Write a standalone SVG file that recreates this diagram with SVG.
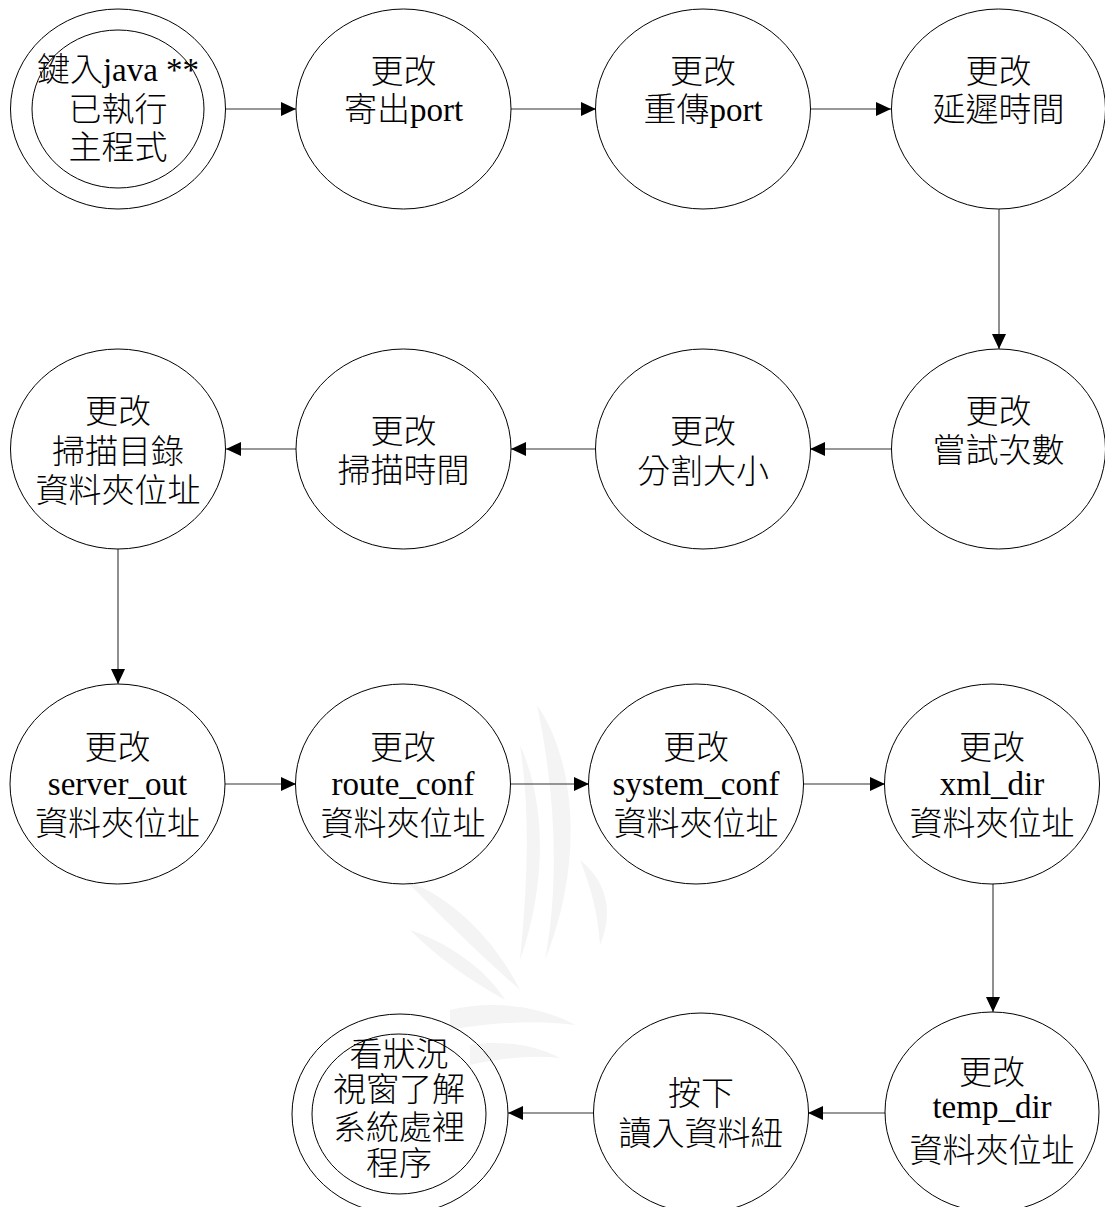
<svg xmlns="http://www.w3.org/2000/svg" width="1105" height="1207" viewBox="0 0 1105 1207">
<style>
.n ellipse{fill:none;stroke:#000;stroke-width:1}
.t{font-family:"Liberation Serif","Noto Sans CJK TC",serif;font-size:33px;font-weight:300;fill:#000;text-anchor:middle}
.c line{stroke:#333;stroke-width:1.1;marker-end:url(#ah)}
.wm{fill:#f4f4f4}
</style>
<defs>
<marker id="ah" markerUnits="userSpaceOnUse" markerWidth="16" markerHeight="15" refX="15" refY="7" orient="auto">
<path d="M0,0 L15,7 L0,14 z" fill="#000"/>
</marker>
</defs>
<rect width="1105" height="1207" fill="#fff"/>
<g id="watermark">
<path class="wm" d="M537,705 C575,760 585,860 545,960 C560,880 555,790 537,705 Z"/>
<path class="wm" d="M520,745 C545,800 548,880 520,960 C528,880 530,810 520,745 Z"/>
<path class="wm" d="M405,880 C460,900 500,950 520,990 C480,955 445,920 405,880 Z"/>
<path class="wm" d="M410,930 C455,945 490,975 505,1000 C470,980 440,960 410,930 Z"/>
<path class="wm" d="M450,1010 C490,1000 540,1005 575,1025 C535,1020 495,1022 450,1030 Z"/>
<path class="wm" d="M470,1045 C505,1040 535,1045 560,1058 C530,1055 500,1058 470,1065 Z"/>
<path class="wm" d="M580,860 C605,880 615,910 600,945 C598,915 592,890 580,860 Z"/>
</g>
<g id="connectors" class="c">
<line x1="226" y1="109" x2="296" y2="109"/>
<line x1="511" y1="109" x2="596" y2="109"/>
<line x1="810" y1="109" x2="891" y2="109"/>
<line x1="999" y1="209" x2="999" y2="349"/>
<line x1="891" y1="449" x2="810" y2="449"/>
<line x1="596" y1="449" x2="511" y2="449"/>
<line x1="296" y1="449" x2="226" y2="449"/>
<line x1="118" y1="549" x2="118" y2="684"/>
<line x1="225" y1="784" x2="296" y2="784"/>
<line x1="510" y1="784" x2="589" y2="784"/>
<line x1="803" y1="784" x2="885" y2="784"/>
<line x1="993" y1="884" x2="993" y2="1012"/>
<line x1="885" y1="1113" x2="808" y2="1113"/>
<line x1="594" y1="1113" x2="508" y2="1113"/>
</g>
<g id="n1" class="n">
<ellipse cx="118" cy="109" rx="107.5" ry="100"/>
<ellipse cx="118" cy="109" rx="86" ry="79"/>
<text class="t" x="118" y="81">鍵入java **</text>
<text class="t" x="118" y="121">已執行</text>
<text class="t" x="118" y="159">主程式</text>
</g>
<g id="n2" class="n">
<ellipse cx="403.5" cy="109" rx="107.5" ry="100"/>
<text class="t" x="403.5" y="83">更改</text>
<text class="t" x="403.5" y="121">寄出port</text>
</g>
<g id="n3" class="n">
<ellipse cx="703" cy="109" rx="107.5" ry="100"/>
<text class="t" x="703" y="83">更改</text>
<text class="t" x="703" y="121">重傳port</text>
</g>
<g id="n4" class="n">
<ellipse cx="998.5" cy="109" rx="107" ry="100"/>
<text class="t" x="998.5" y="83">更改</text>
<text class="t" x="998.5" y="121">延遲時間</text>
</g>
<g id="n5" class="n">
<ellipse cx="998.5" cy="449" rx="107" ry="100"/>
<text class="t" x="998.5" y="423">更改</text>
<text class="t" x="998.5" y="462">嘗試次數</text>
</g>
<g id="n6" class="n">
<ellipse cx="703" cy="449" rx="107.5" ry="100"/>
<text class="t" x="703" y="443">更改</text>
<text class="t" x="703" y="483">分割大小</text>
</g>
<g id="n7" class="n">
<ellipse cx="403.5" cy="449" rx="107.5" ry="100"/>
<text class="t" x="403.5" y="443">更改</text>
<text class="t" x="403.5" y="482">掃描時間</text>
</g>
<g id="n8" class="n">
<ellipse cx="118" cy="449" rx="107.5" ry="100"/>
<text class="t" x="118" y="423">更改</text>
<text class="t" x="118" y="463">掃描目錄</text>
<text class="t" x="118" y="502">資料夾位址</text>
</g>
<g id="n9" class="n">
<ellipse cx="117.5" cy="784" rx="107.5" ry="100"/>
<text class="t" x="117.5" y="759">更改</text>
<text class="t" x="117.5" y="795">server_out</text>
<text class="t" x="117.5" y="835">資料夾位址</text>
</g>
<g id="n10" class="n">
<ellipse cx="403" cy="784" rx="107.5" ry="100"/>
<text class="t" x="403" y="759">更改</text>
<text class="t" x="403" y="795">route_conf</text>
<text class="t" x="403" y="835">資料夾位址</text>
</g>
<g id="n11" class="n">
<ellipse cx="696" cy="784" rx="107.5" ry="100"/>
<text class="t" x="696" y="759">更改</text>
<text class="t" x="696" y="795">system_conf</text>
<text class="t" x="696" y="835">資料夾位址</text>
</g>
<g id="n12" class="n">
<ellipse cx="992" cy="784" rx="107.5" ry="100"/>
<text class="t" x="992" y="759">更改</text>
<text class="t" x="992" y="795">xml_dir</text>
<text class="t" x="992" y="835">資料夾位址</text>
</g>
<g id="n13" class="n">
<ellipse cx="992" cy="1112" rx="107" ry="100"/>
<text class="t" x="992" y="1084">更改</text>
<text class="t" x="992" y="1118">temp_dir</text>
<text class="t" x="992" y="1162">資料夾位址</text>
</g>
<g id="n14" class="n">
<ellipse cx="701" cy="1113" rx="107.5" ry="100"/>
<text class="t" x="701" y="1105">按下</text>
<text class="t" x="701" y="1145">讀入資料紐</text>
</g>
<g id="n15" class="n">
<ellipse cx="400" cy="1114" rx="108" ry="100"/>
<ellipse cx="399" cy="1114" rx="87" ry="80"/>
<text class="t" x="399" y="1066">看狀況</text>
<text class="t" x="399" y="1101">視窗了解</text>
<text class="t" x="399" y="1139">系統處裡</text>
<text class="t" x="399" y="1175">程序</text>
</g>
</svg>
